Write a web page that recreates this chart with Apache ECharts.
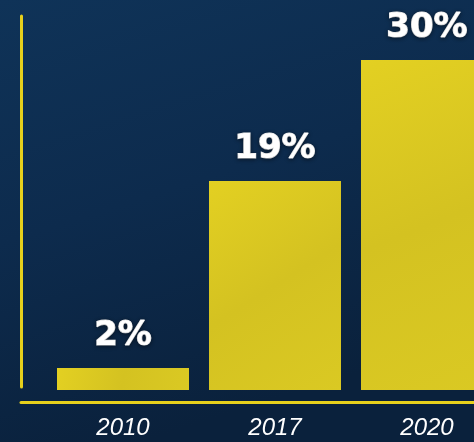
<!DOCTYPE html>
<html>
<head>
<meta charset="utf-8">
<script src="https://cdn.jsdelivr.net/npm/echarts@6/dist/echarts.min.js"></script>
<style>
html,body{margin:0;padding:0;background:#0c2746;}
#chart{width:474px;height:442px;}
</style>
</head>
<body>
<div id="chart"></div>
<script>
const categories = ['2010', '2017', '2020'];
const shares = [2, 19, 30];

const chart = echarts.init(document.getElementById('chart'), null, {renderer: 'canvas'});
const yellow = '#e6d01c';
chart.setOption({
  animation: false,
  backgroundColor: {
    type: 'linear', x: 0, y: 0, x2: 0.3, y2: 1,
    colorStops: [
      {offset: 0, color: '#0f3358'},
      {offset: 0.5, color: '#0d2b4d'},
      {offset: 1, color: '#0a213c'}
    ]
  },
  grid: [
    {left: 47, width: 456, top: 16, bottom: 52, outerBoundsMode: 'none', containLabel: false},
    {left: 21, right: 0, top: 16, bottom: 55, outerBoundsMode: 'none'}
  ],
  xAxis: [
    {
      type: 'category', gridIndex: 0, data: categories,
      axisLine: {show: false}, axisTick: {show: false},
      axisLabel: {
        margin: 26, color: '#ffffff', fontSize: 24, fontStyle: 'italic',
        fontFamily: 'Liberation Sans, Arial, sans-serif'
      }
    },
    {
      type: 'value', gridIndex: 1, min: 0, max: 1, offset: 15, position: 'bottom',
      axisLine: {show: true, onZero: false, lineStyle: {color: yellow, width: 3}},
      axisTick: {show: false}, axisLabel: {show: false}, splitLine: {show: false}
    }
  ],
  yAxis: [
    {type: 'value', gridIndex: 0, min: 0, max: 34, show: false},
    {
      type: 'value', gridIndex: 1, min: 0, max: 1,
      axisLine: {show: true, onZero: false, lineStyle: {color: yellow, width: 3}},
      axisTick: {show: false}, axisLabel: {show: false}, splitLine: {show: false}
    }
  ],
  series: [{
    type: 'bar', xAxisIndex: 0, yAxisIndex: 0,
    data: shares, barWidth: 132,
    itemStyle: {
      color: {
        type: 'linear', x: 0, y: 0, x2: 1, y2: 1,
        colorStops: [
          {offset: 0, color: '#e3d022'},
          {offset: 0.5, color: '#d4c221'},
          {offset: 1, color: '#dac923'}
        ]
      }
    },
    label: {
      show: true, position: 'top', distance: 15,
      formatter: '{c}%', color: '#ffffff', fontSize: 34, fontWeight: 'bold',
      fontFamily: 'DejaVu Sans, sans-serif',
      textBorderColor: '#ffffff', textBorderWidth: 1.2,
      textShadowColor: 'rgba(0,0,0,0.45)', textShadowBlur: 4, textShadowOffsetY: 1
    }
  }]
});
</script>
</body>
</html>
